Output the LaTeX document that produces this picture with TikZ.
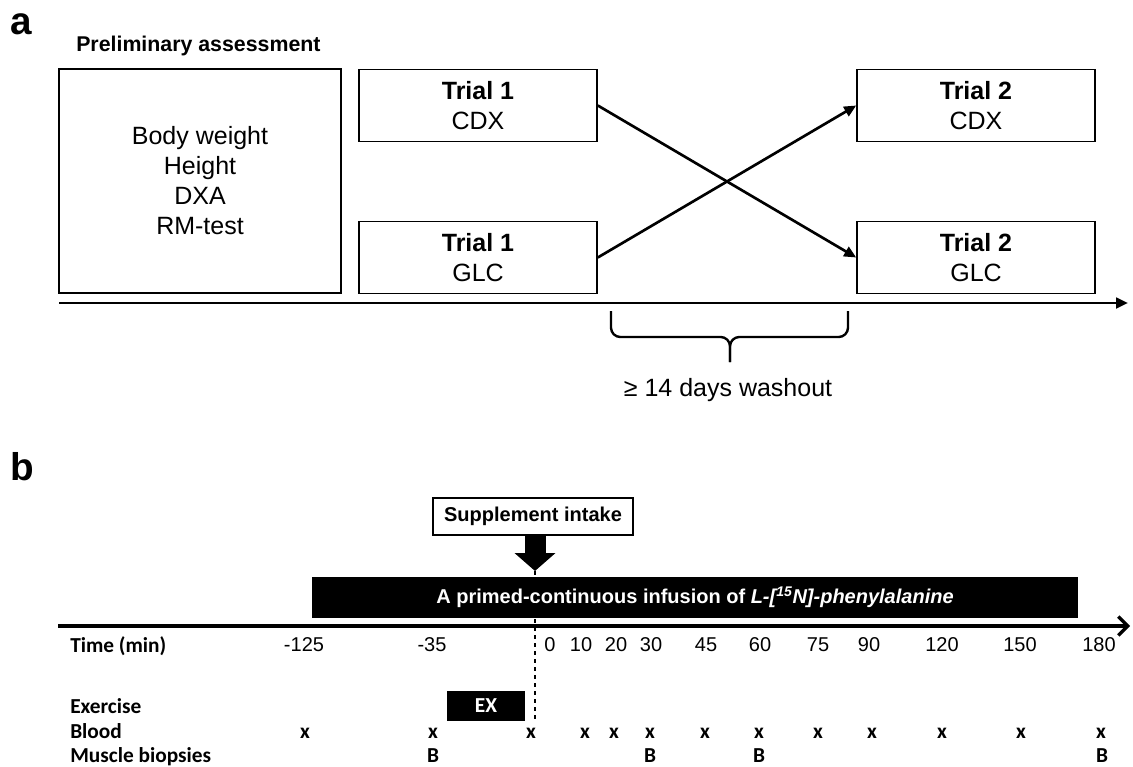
\documentclass[tikz,border=0pt]{standalone}
\usepackage{fontspec}
\setmainfont{Liberation Sans}
\newfontfamily\calib{Carlito}
\usetikzlibrary{positioning,arrows.meta}

\tikzset{
  box/.style={draw,line width=1.2pt,align=center,inner sep=0pt,
    minimum width=178.5pt,minimum height=54pt,
    font=\fontsize{18.75}{22.5}\selectfont},
  arr/.style={line width=2pt,-{Triangle[length=9pt,width=8pt]}},
  lbl/.style={anchor=base west,inner sep=0pt,font=\calib\bfseries\fontsize{16}{19}\selectfont},
  num/.style={inner sep=0pt,font=\fontsize{15}{18}\selectfont},
  smark/.style={anchor=base,inner sep=0pt,font=\calib\bfseries\fontsize{16}{19}\selectfont},
  blk/.style={fill=black,text=white,inner sep=0pt},
  panel/.style={inner sep=0pt,font=\bfseries\fontsize{29}{32}\selectfont}
}

\begin{document}
\begin{tikzpicture}[x=0.75pt,y=-0.75pt]
\useasboundingbox (0,0) rectangle (1133,767);

% panel a
\node (a) [panel] at (21,24) {a};
\node (head) [anchor=west,inner sep=0pt,font=\bfseries\fontsize{16}{19}\selectfont] at (76,46) {Preliminary assessment};
\node (pre) [box,minimum width=211.5pt,minimum height=168pt] at (200,181) {Body weight\\Height\\DXA\\RM-test};
\node (t1c) [box] at (478,105.5) {\textbf{Trial 1}\\CDX};
\node (t1g) [box,below of=t1c,node distance=114pt] {\textbf{Trial 1}\\GLC};
\node (t2c) [box,right of=t1c,node distance=373.5pt] {\textbf{Trial 2}\\CDX};
\node (t2g) [box,below of=t2c,node distance=114pt] {\textbf{Trial 2}\\GLC};
\draw[arr] (t1c.east) -- (t2g.west);
\draw[arr] (t1g.east) -- (t2c.west);

\coordinate (axa) at (59,303);
\coordinate (axb) at (1128,303);
\draw[line width=2pt,-{Triangle[length=9pt,width=8pt]}] (axa) -- (axb);

% washout brace
\coordinate (bl) at (611,311);
\coordinate (br) at (848,311);
\coordinate (bt) at (730,362);
\draw[line width=1.8pt,rounded corners=7pt] (bl) |- (730,337) -- (bt);
\draw[line width=1.8pt,rounded corners=7pt] (br) |- (730,337) -- (bt);
\node (wash) [inner sep=0pt,font=\fontsize{18.75}{22}\selectfont] at (728,390) {≥ 14 days washout};

% panel b
\node (b) [panel] at (22,467) {b};
\node (sup) [draw,line width=1.2pt,minimum width=150pt,minimum height=27.75pt,inner sep=0pt,
  font=\bfseries\fontsize{15}{18}\selectfont] at (533,516.5) {Supplement intake};
\coordinate (tip) at (535,571);
\draw[line width=15.75pt,-{Triangle[length=13.5pt,width=30pt]}] (sup.south -| tip) -- (tip);

\node (inf) [blk,minimum width=574.5pt,minimum height=31pt,font=\bfseries\fontsize{15}{18}\selectfont]
  at (695,597.5) {A primed-continuous infusion of \textit{L-[\textsuperscript{15}N]-phenylalanine}};

\coordinate (axc) at (58,626);
\coordinate (axd) at (1130,626);
\draw[line width=2.5pt,-{Straight Barb[length=7pt,width=14pt]}] (axc) -- (axd);
\coordinate (dl) at (535,720);
\draw[dashed,line width=0.8pt] (tip) -- (dl);

\node (time) [lbl] at (70,652) {Time (min)};
\foreach \x/\t [count=\i] in {304/-125,432/-35,550/0,581/10,616/20,651/30,706/45,760/60,818/75,869/90,942/120,1020/150,1099/180}
  \node (n\i) [num] at (\x,645) {\t};

\node (ex) [blk,minimum width=58.5pt,minimum height=22.5pt,font=\calib\bfseries\fontsize{16}{19}\selectfont]
  at (486,706) {EX};
\node (exe) [lbl] at (70,713) {Exercise};
\node (bld) [lbl] at (70,738) {Blood};
\node (bio) [lbl] at (70,762) {Muscle biopsies};

\foreach \x [count=\i] in {305,433,531,585,614,650,705,759,818,872,942,1021,1101}
  \node (x\i) [smark] at (\x,738) {x};
\foreach \x [count=\i] in {433,650,759,1102}
  \node (B\i) [smark] at (\x,762) {B};
\end{tikzpicture}
\end{document}
